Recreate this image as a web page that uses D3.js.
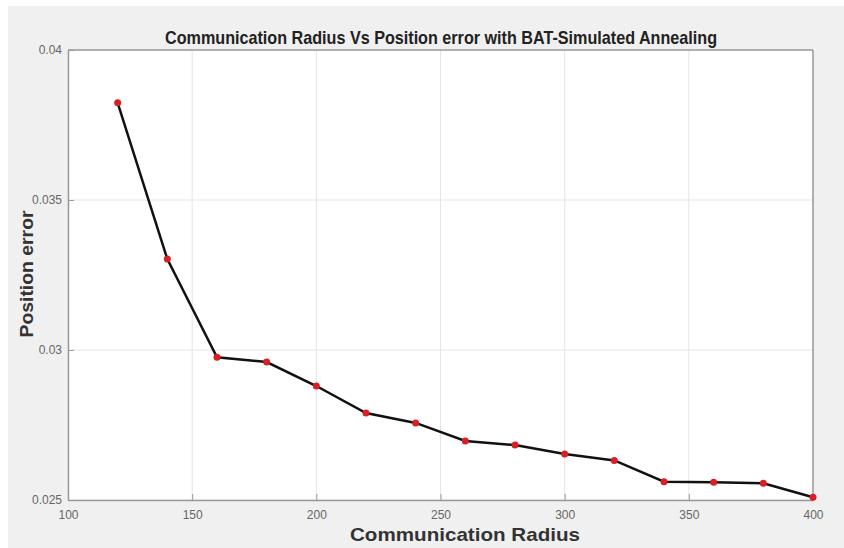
<!DOCTYPE html>
<html><head><meta charset="utf-8">
<script src="https://cdn.jsdelivr.net/npm/d3@7"></script>
<style>body{margin:0;background:#fff;}svg{display:block;}</style>
</head><body>
<svg id="c" width="844" height="548"></svg>
<script>
const radius = [120,140,160,180,200,220,240,260,280,300,320,340,360,380,400];
const posError = [0.03824,0.03303,0.02976,0.0296,0.0288,0.0279,0.02757,0.02697,0.02683,0.02653,0.02632,0.02561,0.02559,0.02556,0.02509];
const xTicks = [100,150,200,250,300,350,400];
const yTicks = [0.025,0.03,0.035,0.04];
const yTickLabels = ["0.025","0.03","0.035","0.04"];
const titleText = "Communication Radius Vs Position error with BAT-Simulated Annealing";
const xLabel = "Communication Radius";
const yLabel = "Position error";

const svg = d3.select("#c");
const m = {l:68,r:813,t:50,b:500};
svg.append("rect").attr("x",8).attr("y",6).attr("width",836).attr("height",542).attr("fill","#f0f0f0");
const x = d3.scaleLinear().domain([100,400]).range([m.l,m.r]);
const y = d3.scaleLinear().domain([0.025,0.04]).range([m.b,m.t]);
svg.append("rect").attr("x",m.l).attr("y",m.t).attr("width",m.r-m.l).attr("height",m.b-m.t).attr("fill","#fff");
const g = svg.append("g");
g.selectAll("line.gx").data(xTicks).join("line").attr("x1",d=>x(d)).attr("x2",d=>x(d)).attr("y1",m.t).attr("y2",m.b).attr("stroke","#e4e4e4").attr("stroke-width",1);
g.selectAll("line.gy").data(yTicks).join("line").attr("y1",d=>y(d)).attr("y2",d=>y(d)).attr("x1",m.l).attr("x2",m.r).attr("stroke","#e4e4e4").attr("stroke-width",1);
const xa = svg.append("g").attr("transform",`translate(0,${m.b})`).call(d3.axisBottom(x).tickValues(xTicks).tickSizeInner(-6).tickSizeOuter(0).tickPadding(10).tickFormat(d3.format("d")));
const ya = svg.append("g").attr("transform",`translate(${m.l},0)`).call(d3.axisLeft(y).tickValues(yTicks).tickSizeInner(-6).tickSizeOuter(0).tickPadding(6).tickFormat((d,i)=>yTickLabels[i]));
[xa,ya].forEach(a=>{a.select(".domain").attr("stroke","#9a9a9a").attr("stroke-width",1.5);
 a.selectAll(".tick line").attr("stroke","#9a9a9a");
 a.selectAll("text").attr("fill","#666").attr("font-family","Liberation Sans Narrow, Arial, sans-serif").attr("font-size",12);});
svg.append("line").attr("x1",m.l).attr("x2",m.r).attr("y1",m.t).attr("y2",m.t).attr("stroke","#9a9a9a").attr("stroke-width",1.5);
svg.append("line").attr("x1",m.r).attr("x2",m.r).attr("y1",m.t).attr("y2",m.b).attr("stroke","#9a9a9a").attr("stroke-width",1.5);
const pts = radius.map((r,i)=>[r,posError[i]]);
svg.append("path").datum(pts).attr("fill","none").attr("stroke","#111").attr("stroke-width",2.5)
  .attr("d",d3.line().x(d=>x(d[0])).y(d=>y(d[1])));
svg.selectAll("circle.p").data(pts).join("circle").attr("cx",d=>x(d[0])).attr("cy",d=>y(d[1])).attr("r",3.5).attr("fill","#d81f26");
svg.append("text").attr("x",441).attr("y",44).attr("text-anchor","middle").attr("font-family","Liberation Sans, Arial, sans-serif").attr("font-weight","bold").attr("font-size",19).attr("fill","#222")
  .attr("textLength",552).attr("lengthAdjust","spacingAndGlyphs").text(titleText);
svg.append("text").attr("x",465).attr("y",541).attr("text-anchor","middle").attr("font-family","Liberation Sans, Arial, sans-serif").attr("font-weight","bold").attr("font-size",19).attr("fill","#333")
  .attr("textLength",230).attr("lengthAdjust","spacingAndGlyphs").text(xLabel);
svg.append("text").attr("transform","translate(33,274) rotate(-90)").attr("text-anchor","middle").attr("font-family","Liberation Sans, Arial, sans-serif").attr("font-weight","bold").attr("font-size",19).attr("fill","#333")
  .attr("textLength",127).attr("lengthAdjust","spacingAndGlyphs").text(yLabel);
</script>
</body></html>
